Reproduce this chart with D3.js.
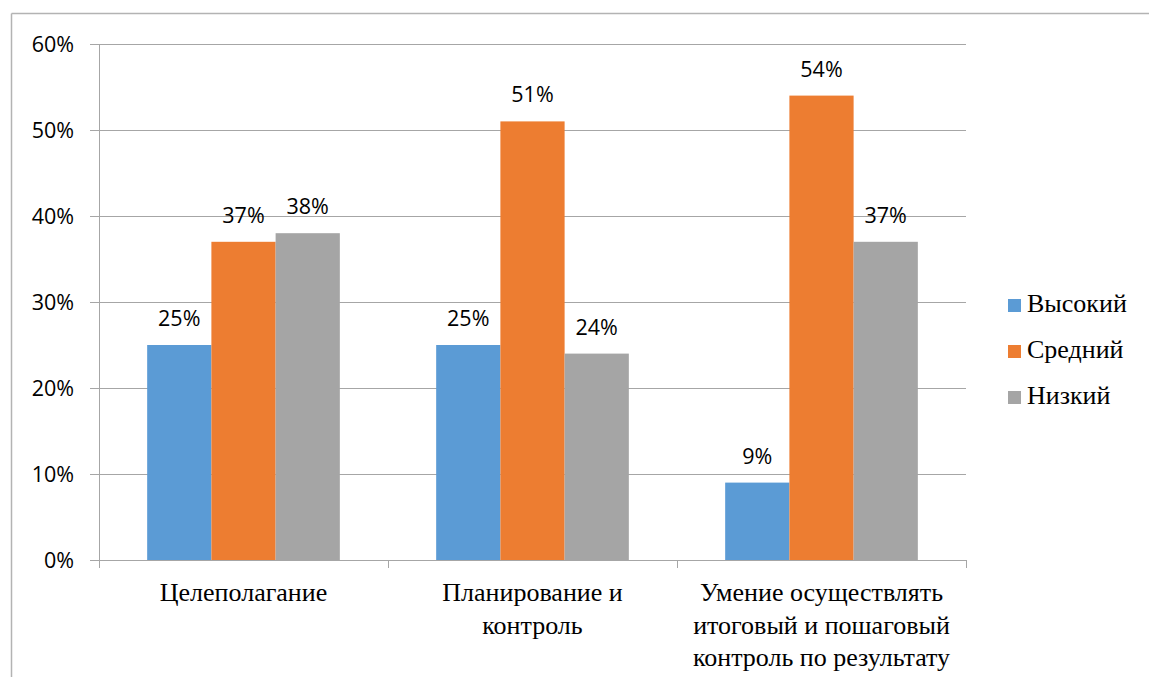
<!DOCTYPE html>
<html>
<head>
<meta charset="utf-8">
<script src="https://cdn.jsdelivr.net/npm/d3@7"></script>
<style>
  body{margin:0;background:#fff;}
  #wrap{position:relative;width:1149px;height:677px;}
  svg{display:block;position:absolute;left:0;top:0;}
  .serif-label{position:absolute;font-family:'Liberation Serif', 'Times New Roman', serif;font-size:26px;line-height:32.5px;color:#000;white-space:nowrap;}
</style>
</head>
<body>
<div id="wrap">
<svg id="chart" width="1149" height="677"></svg>
</div>
<script>
const categories = [
  ["Целеполагание"],
  ["Планирование и", "контроль"],
  ["Умение осуществлять", "итоговый и пошаговый", "контроль по результату"]
];
const series = ["Высокий", "Средний", "Низкий"];
const colors = ["#5B9BD5", "#ED7D31", "#A5A5A5"];
// values per category, in series order
const values = [
  [0.25, 0.37, 0.38],
  [0.25, 0.51, 0.24],
  [0.09, 0.54, 0.37]
];
const yTicks = [0, 0.1, 0.2, 0.3, 0.4, 0.5, 0.6];

(function(){
  const svg = d3.select("#chart");
  const wrap = d3.select("#wrap");
  const gridColor = "#a6a6a6";
  const sans = "'Open Sans', 'Liberation Sans', sans-serif";

  // outer frame (top and left edge visible)
  svg.append("line").attr("x1",11.5).attr("x2",1149).attr("y1",13.5).attr("y2",13.5)
    .attr("stroke","#b3b3b3").attr("stroke-width",1.5);
  svg.append("line").attr("x1",11.5).attr("x2",11.5).attr("y1",13.5).attr("y2",677)
    .attr("stroke","#b3b3b3").attr("stroke-width",1.5);

  const pLeft = 99, pRight = 966, pTop = 44, pBottom = 560;

  const x0 = d3.scaleBand().domain(d3.range(categories.length)).range([pLeft, pRight]).padding(0);
  const x1 = d3.scaleBand().domain(d3.range(series.length)).range([0, x0.bandwidth()])
    .paddingInner(0).paddingOuter(0.75);
  const y = d3.scaleLinear().domain([0, 0.6]).range([pBottom, pTop]);

  // gridlines + tick marks
  svg.append("g").selectAll("line").data(yTicks).enter().append("line")
    .attr("x1", pLeft-9).attr("x2", pRight)
    .attr("y1", d=>Math.round(y(d))+0.5).attr("y2", d=>Math.round(y(d))+0.5)
    .attr("stroke", gridColor).attr("stroke-width",1);

  // y axis line
  svg.append("line").attr("x1",pLeft+0.5).attr("x2",pLeft+0.5).attr("y1",pTop).attr("y2",pBottom+8)
    .attr("stroke",gridColor);

  // category ticks
  svg.append("g").selectAll("line").data(d3.range(categories.length+1)).enter().append("line")
    .attr("x1", d=> (d<categories.length ? x0(d) : pRight)+0.5)
    .attr("x2", d=> (d<categories.length ? x0(d) : pRight)+0.5)
    .attr("y1", pBottom).attr("y2", pBottom+8)
    .attr("stroke", gridColor);

  // y tick labels
  svg.append("g").selectAll("text").data(yTicks).enter().append("text")
    .style("font-family", sans).attr("font-size",21.5).attr("fill","#000")
    .attr("x", 74).attr("y", d=>y(d)+8)
    .attr("text-anchor","end")
    .text(d=>d3.format(".0%")(d));

  // bars
  const groups = svg.append("g").selectAll("g").data(values).enter().append("g")
    .attr("transform",(d,i)=>`translate(${x0(i)},0)`);

  groups.selectAll("rect").data(d=>d).enter().append("rect")
    .attr("x",(d,j)=>x1(j)).attr("width",x1.bandwidth())
    .attr("y",d=>y(d)).attr("height",d=>pBottom-y(d))
    .attr("fill",(d,j)=>colors[j]);

  groups.selectAll("text").data(d=>d).enter().append("text")
    .style("font-family", sans).attr("font-size",21.5).attr("fill","#000")
    .attr("x",(d,j)=>x1(j)+x1.bandwidth()/2)
    .attr("y",d=>y(d)-19)
    .attr("text-anchor","middle")
    .text(d=>d3.format(".0%")(d));

  // category labels (HTML so the serif face is used); baseline of first line ~602
  wrap.selectAll("div.cat").data(categories).enter().append("div")
    .attr("class","serif-label cat")
    .style("left",(d,i)=>x0(i)+"px")
    .style("width",x0.bandwidth()+"px")
    .style("top","577px")
    .style("text-align","center")
    .html(d=>d.map(s=>s.replace(/&/g,"&amp;").replace(/</g,"&lt;")).join("<br>"));

  // legend
  const legend = svg.append("g").selectAll("rect").data(series).enter().append("rect")
    .attr("x",1008).attr("y",(d,i)=>299+i*46)
    .attr("width",13).attr("height",13).attr("fill",(d,i)=>colors[i]);
  wrap.selectAll("div.leg").data(series).enter().append("div")
    .attr("class","serif-label leg")
    .style("left","1027px")
    .style("top",(d,i)=>(288+i*46)+"px")
    .text(d=>d);
})();
</script>
</body>
</html>
